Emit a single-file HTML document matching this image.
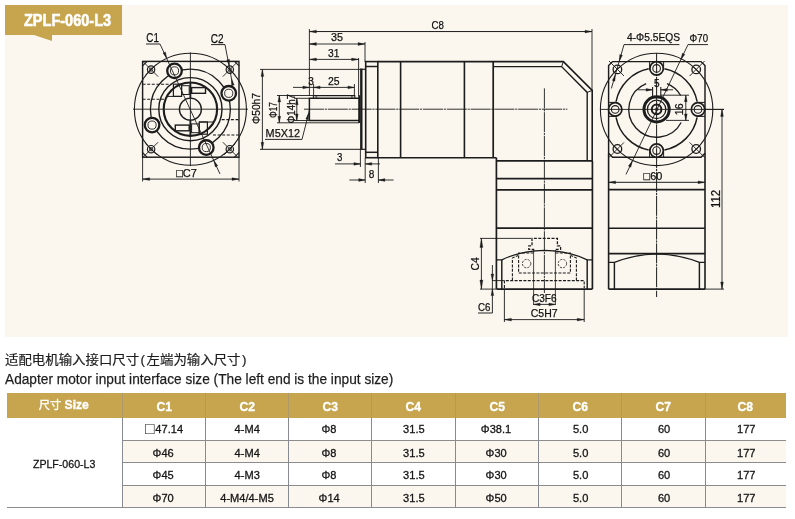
<!DOCTYPE html>
<html lang="zh"><head><meta charset="utf-8"><title>ZPLF-060-L3</title>
<style>
html,body{margin:0;padding:0;background:#fff}
body{width:795px;height:519px;position:relative;overflow:hidden;font-family:"Liberation Sans","Noto Sans CJK SC",sans-serif;color:#1c1c1c}
#page{position:absolute;left:0;top:0;width:795px;height:519px;background:#fff;will-change:transform}
.panel{position:absolute;left:5px;top:5px;width:783px;height:332.3px;background:#fbf7ef}
.banner{position:absolute;left:5px;top:5px;width:117px;height:29.7px;background:#c7a54e}
.banner span{position:absolute;left:18.7px;top:0.5px;line-height:29.7px;font-size:16px;font-weight:bold;color:#fff;white-space:nowrap;transform:scaleX(0.907);transform-origin:0 50%;-webkit-text-stroke:0.55px #fff}
.tail{position:absolute;left:33.6px;top:34.7px;width:0;height:0;border-left:18.4px solid transparent;border-bottom:6.6px solid #c7a54e;transform:scaleY(-1)}
svg{position:absolute;left:0;top:0}
svg text{font-family:"Liberation Sans","Noto Sans CJK SC",sans-serif;fill:#111;stroke:#111;stroke-width:0.25px}
.cap{position:absolute;left:5px;white-space:nowrap;color:#1e1e1e;transform-origin:0 50%}
.c1{top:350.8px;font-size:12.6px;line-height:18px;transform:scaleX(1.065);-webkit-text-stroke:0.2px #1e1e1e}
.c2{top:368.6px;font-size:15.4px;line-height:20px;transform:scaleX(0.890);-webkit-text-stroke:0.25px #1e1e1e}
.pr{margin:0 1.4px}
.hdr{position:absolute;background:#c7a54e}
.th{position:absolute;color:#fff;font-weight:bold;font-size:12.8px;text-align:center;white-space:nowrap}
.td{position:absolute;text-align:center;font-size:11.6px;white-space:nowrap;color:#151515}
.th span,.td span{display:inline-block}
.th span{transform:translateY(1.3px) scaleX(0.95);-webkit-text-stroke:0.35px #fff}
.td span{-webkit-text-stroke:0.3px #151515}
.th span.h0{transform:translate(-0.6px,-0.6px) scaleX(0.95)}
.cj{font-weight:normal;font-size:11.8px;-webkit-text-stroke:0.4px #fff}
.td span.m{transform:translate(0,0.6px) scaleX(0.915)}
.sq{font-style:normal;font-size:16.5px;line-height:1px;position:relative;top:1px;margin-right:1px;-webkit-text-stroke:0}
.rowbg{position:absolute}
.hl{position:absolute;height:1px;background:#8c8b8d}
.vl{position:absolute;width:1px;background:#888a92}
</style></head>
<body>
<div id="page">
<div class="panel"></div>
<div class="banner"><span>ZPLF-060-L3</span></div>
<div class="tail"></div>
<svg width="795" height="519" viewBox="0 0 795 519" stroke-linecap="butt">
<rect x="142.6" y="61.4" width="96.4" height="95.8" fill="none" stroke="#1c1c1c" stroke-width="1.45"/>
<line x1="142.6" y1="65.9" x2="147.1" y2="61.4" stroke="#1c1c1c" stroke-width="1.1"/>
<line x1="239" y1="65.9" x2="234.5" y2="61.4" stroke="#1c1c1c" stroke-width="1.1"/>
<line x1="142.6" y1="152.7" x2="147.1" y2="157.2" stroke="#1c1c1c" stroke-width="1.1"/>
<line x1="239" y1="152.7" x2="234.5" y2="157.2" stroke="#1c1c1c" stroke-width="1.1"/>
<circle cx="190.4" cy="109.2" r="56" fill="none" stroke="#1c1c1c" stroke-width="1.1"/>
<circle cx="190.4" cy="109.2" r="40" fill="none" stroke="#1c1c1c" stroke-width="1.3"/>
<circle cx="190.4" cy="109.2" r="31.6" fill="none" stroke="#1c1c1c" stroke-width="1.4"/>
<circle cx="190.4" cy="109.2" r="26.7" fill="none" stroke="#1c1c1c" stroke-width="2.1"/>
<circle cx="190.4" cy="109.2" r="11" fill="none" stroke="#1c1c1c" stroke-width="1.3"/>
<line x1="190.4" y1="52.5" x2="190.4" y2="166" stroke="#1c1c1c" stroke-width="0.9"/>
<line x1="133" y1="109.2" x2="248" y2="109.2" stroke="#1c1c1c" stroke-width="0.9"/>
<circle cx="174.52" cy="70.86" r="7.3" fill="#fbf7ef" stroke="#1c1c1c" stroke-width="2.3"/>
<circle cx="174.52" cy="70.86" r="4.1" fill="none" stroke="#1c1c1c" stroke-width="0.9"/>
<circle cx="228.74" cy="93.32" r="7.3" fill="#fbf7ef" stroke="#1c1c1c" stroke-width="2.3"/>
<circle cx="228.74" cy="93.32" r="4.1" fill="none" stroke="#1c1c1c" stroke-width="0.9"/>
<circle cx="206.28" cy="147.54" r="7.3" fill="#fbf7ef" stroke="#1c1c1c" stroke-width="2.3"/>
<circle cx="206.28" cy="147.54" r="4.1" fill="none" stroke="#1c1c1c" stroke-width="0.9"/>
<circle cx="152.06" cy="125.08" r="7.3" fill="#fbf7ef" stroke="#1c1c1c" stroke-width="2.3"/>
<circle cx="152.06" cy="125.08" r="4.1" fill="none" stroke="#1c1c1c" stroke-width="0.9"/>
<circle cx="151.1" cy="69.6" r="3.7" fill="none" stroke="#1c1c1c" stroke-width="1.2"/>
<circle cx="151.1" cy="69.6" r="1.7" fill="none" stroke="#1c1c1c" stroke-width="0.8"/>
<line x1="143.6" y1="62.1" x2="158.1" y2="76.6" stroke="#1c1c1c" stroke-width="0.9"/>
<line x1="156.6" y1="64.1" x2="145.6" y2="75.1" stroke="#1c1c1c" stroke-width="0.9"/>
<circle cx="229.8" cy="69.6" r="3.7" fill="none" stroke="#1c1c1c" stroke-width="1.2"/>
<circle cx="229.8" cy="69.6" r="1.7" fill="none" stroke="#1c1c1c" stroke-width="0.8"/>
<line x1="237.3" y1="62.1" x2="222.8" y2="76.6" stroke="#1c1c1c" stroke-width="0.9"/>
<line x1="224.3" y1="64.1" x2="235.3" y2="75.1" stroke="#1c1c1c" stroke-width="0.9"/>
<circle cx="151.1" cy="149.2" r="3.7" fill="none" stroke="#1c1c1c" stroke-width="1.2"/>
<circle cx="151.1" cy="149.2" r="1.7" fill="none" stroke="#1c1c1c" stroke-width="0.8"/>
<line x1="143.6" y1="156.7" x2="158.1" y2="142.2" stroke="#1c1c1c" stroke-width="0.9"/>
<line x1="156.6" y1="154.7" x2="145.6" y2="143.7" stroke="#1c1c1c" stroke-width="0.9"/>
<circle cx="229.8" cy="149.2" r="3.7" fill="none" stroke="#1c1c1c" stroke-width="1.2"/>
<circle cx="229.8" cy="149.2" r="1.7" fill="none" stroke="#1c1c1c" stroke-width="0.8"/>
<line x1="237.3" y1="156.7" x2="222.8" y2="142.2" stroke="#1c1c1c" stroke-width="0.9"/>
<line x1="224.3" y1="154.7" x2="235.3" y2="143.7" stroke="#1c1c1c" stroke-width="0.9"/>
<line x1="142.6" y1="84.2" x2="171.5" y2="84.2" stroke="#1c1c1c" stroke-width="1.1" stroke-dasharray="3 1.6"/>
<line x1="142.6" y1="99.3" x2="165" y2="99.3" stroke="#1c1c1c" stroke-width="1.1" stroke-dasharray="3 1.6"/>
<line x1="221.7" y1="119.6" x2="239" y2="119.6" stroke="#1c1c1c" stroke-width="1.1" stroke-dasharray="3 1.6"/>
<line x1="213" y1="135" x2="239" y2="135" stroke="#1c1c1c" stroke-width="1.1" stroke-dasharray="3 1.6"/>
<rect x="173.4" y="84.2" width="8.2" height="12.2" fill="none" stroke="#1c1c1c" stroke-width="1.2"/>
<rect x="181.6" y="85.7" width="7.6" height="8.8" fill="none" stroke="#1c1c1c" stroke-width="1"/>
<rect x="191.6" y="87.6" width="13.9" height="5.7" fill="none" stroke="#1c1c1c" stroke-width="1.4"/>
<line x1="190.4" y1="82.5" x2="190.4" y2="98" stroke="#1c1c1c" stroke-width="1.8"/>
<line x1="167.5" y1="96.4" x2="181.6" y2="96.4" stroke="#1c1c1c" stroke-width="1"/>
<rect x="199.2" y="122" width="8.2" height="12.2" fill="none" stroke="#1c1c1c" stroke-width="1.2"/>
<rect x="191.6" y="123.9" width="7.6" height="8.8" fill="none" stroke="#1c1c1c" stroke-width="1"/>
<rect x="175.3" y="125.1" width="13.9" height="5.7" fill="none" stroke="#1c1c1c" stroke-width="1.4"/>
<line x1="190.4" y1="135.9" x2="190.4" y2="120.4" stroke="#1c1c1c" stroke-width="1.8"/>
<line x1="213.3" y1="122" x2="199.2" y2="122" stroke="#1c1c1c" stroke-width="1"/>
<line x1="160" y1="44" x2="220" y2="174" stroke="#1c1c1c" stroke-width="0.9"/>
<polygon points="166.9,58.4 162.91,53.08 165.46,51.91" fill="#1c1c1c" stroke="#1c1c1c" stroke-width="0.3"/>
<polygon points="213.8,160.4 217.79,165.72 215.24,166.89" fill="#1c1c1c" stroke="#1c1c1c" stroke-width="0.3"/>
<line x1="146" y1="44" x2="160" y2="44" stroke="#1c1c1c" stroke-width="0.95"/>
<text x="146.3" y="41.9" font-size="12.3" textLength="12.6" lengthAdjust="spacingAndGlyphs">C1</text>
<line x1="211" y1="44.6" x2="225" y2="44.6" stroke="#1c1c1c" stroke-width="0.95"/>
<line x1="225" y1="44.6" x2="232.5" y2="84" stroke="#1c1c1c" stroke-width="0.9"/>
<polygon points="229.4,66 226.79,59.89 229.53,59.35" fill="#1c1c1c" stroke="#1c1c1c" stroke-width="0.3"/>
<polygon points="231.6,79 234.21,85.11 231.47,85.65" fill="#1c1c1c" stroke="#1c1c1c" stroke-width="0.3"/>
<text x="210.7" y="42.5" font-size="12.3" textLength="12.8" lengthAdjust="spacingAndGlyphs">C2</text>
<line x1="142.6" y1="157.2" x2="142.6" y2="181.5" stroke="#1c1c1c" stroke-width="0.9"/>
<line x1="239" y1="157.2" x2="239" y2="181.5" stroke="#1c1c1c" stroke-width="0.9"/>
<line x1="142.6" y1="179.1" x2="239" y2="179.1" stroke="#1c1c1c" stroke-width="0.9"/>
<polygon points="142.6,179.1 149.6,177.7 149.6,180.5" fill="#1c1c1c" stroke="#1c1c1c" stroke-width="0.3"/>
<polygon points="239,179.1 232,180.5 232,177.7" fill="#1c1c1c" stroke="#1c1c1c" stroke-width="0.3"/>
<text x="176.2" y="176.8" font-size="11.4" textLength="20.8" lengthAdjust="spacingAndGlyphs">□C7</text>
<line x1="260" y1="69.4" x2="360" y2="69.4" stroke="#1c1c1c" stroke-width="0.9"/>
<line x1="260" y1="149.3" x2="360" y2="149.3" stroke="#1c1c1c" stroke-width="1"/>
<line x1="262.4" y1="69.4" x2="262.4" y2="149.3" stroke="#1c1c1c" stroke-width="0.9"/>
<polygon points="262.4,69.4 263.8,76.4 261,76.4" fill="#1c1c1c" stroke="#1c1c1c" stroke-width="0.3"/>
<polygon points="262.4,149.3 261,142.3 263.8,142.3" fill="#1c1c1c" stroke="#1c1c1c" stroke-width="0.3"/>
<text x="259.6" y="124" font-size="11.4" transform="rotate(-90 259.6 124)" textLength="31" lengthAdjust="spacingAndGlyphs">Φ50h7</text>
<line x1="277" y1="95.5" x2="313" y2="95.5" stroke="#1c1c1c" stroke-width="0.9"/>
<line x1="277" y1="122.8" x2="359" y2="122.8" stroke="#1c1c1c" stroke-width="0.9"/>
<line x1="279.3" y1="95.5" x2="279.3" y2="122.8" stroke="#1c1c1c" stroke-width="0.9"/>
<polygon points="279.3,95.5 280.7,102 277.9,102" fill="#1c1c1c" stroke="#1c1c1c" stroke-width="0.3"/>
<polygon points="279.3,122.8 277.9,116.3 280.7,116.3" fill="#1c1c1c" stroke="#1c1c1c" stroke-width="0.3"/>
<text x="277" y="118" font-size="11.4" transform="rotate(-90 277 118)" textLength="16" lengthAdjust="spacingAndGlyphs">Φ17</text>
<line x1="294" y1="98.3" x2="309" y2="98.3" stroke="#1c1c1c" stroke-width="0.9"/>
<line x1="294" y1="120.5" x2="309" y2="120.5" stroke="#1c1c1c" stroke-width="0.9"/>
<line x1="296.8" y1="98.3" x2="296.8" y2="120.5" stroke="#1c1c1c" stroke-width="0.9"/>
<polygon points="296.8,98.3 298.2,104.8 295.4,104.8" fill="#1c1c1c" stroke="#1c1c1c" stroke-width="0.3"/>
<polygon points="296.8,120.5 295.4,114 298.2,114" fill="#1c1c1c" stroke="#1c1c1c" stroke-width="0.3"/>
<text x="295" y="123.5" font-size="11.4" transform="rotate(-90 295 123.5)" textLength="29.5" lengthAdjust="spacingAndGlyphs">Φ14h7</text>
<text x="265.6" y="137.3" font-size="11.4" textLength="34.4" lengthAdjust="spacingAndGlyphs">M5X12</text>
<line x1="265" y1="139.4" x2="302" y2="139.4" stroke="#1c1c1c" stroke-width="0.95"/>
<line x1="302" y1="139.4" x2="309.5" y2="110" stroke="#1c1c1c" stroke-width="0.9"/>
<polygon points="308.7,113 308.45,119.64 305.74,118.95" fill="#1c1c1c" stroke="#1c1c1c" stroke-width="0.3"/>
<line x1="309.4" y1="29" x2="309.4" y2="96" stroke="#1c1c1c" stroke-width="0.9"/>
<line x1="592" y1="29" x2="592" y2="91" stroke="#1c1c1c" stroke-width="0.9"/>
<line x1="309.4" y1="31.55" x2="592" y2="31.55" stroke="#1c1c1c" stroke-width="1"/>
<polygon points="309.4,31.55 316.4,30.15 316.4,32.95" fill="#1c1c1c" stroke="#1c1c1c" stroke-width="0.3"/>
<polygon points="592,31.55 585,32.95 585,30.15" fill="#1c1c1c" stroke="#1c1c1c" stroke-width="0.3"/>
<text x="431.6" y="28.7" font-size="11.4" textLength="12.4" lengthAdjust="spacingAndGlyphs">C8</text>
<line x1="309.4" y1="44" x2="365" y2="44" stroke="#1c1c1c" stroke-width="0.9"/>
<polygon points="309.4,44 316.4,42.6 316.4,45.4" fill="#1c1c1c" stroke="#1c1c1c" stroke-width="0.3"/>
<polygon points="365,44 358,45.4 358,42.6" fill="#1c1c1c" stroke="#1c1c1c" stroke-width="0.3"/>
<line x1="365" y1="42" x2="365" y2="62" stroke="#1c1c1c" stroke-width="0.9"/>
<text x="331" y="41.3" font-size="11.4" textLength="12" lengthAdjust="spacingAndGlyphs">35</text>
<line x1="309.4" y1="59.4" x2="358.6" y2="59.4" stroke="#1c1c1c" stroke-width="0.9"/>
<polygon points="309.4,59.4 316.4,58 316.4,60.8" fill="#1c1c1c" stroke="#1c1c1c" stroke-width="0.3"/>
<polygon points="358.6,59.4 351.6,60.8 351.6,58" fill="#1c1c1c" stroke="#1c1c1c" stroke-width="0.3"/>
<line x1="358.6" y1="58" x2="358.6" y2="96" stroke="#1c1c1c" stroke-width="0.9"/>
<text x="328" y="57.3" font-size="11.4" textLength="11.4" lengthAdjust="spacingAndGlyphs">31</text>
<line x1="293" y1="87.4" x2="354.4" y2="87.4" stroke="#1c1c1c" stroke-width="0.9"/>
<polygon points="309.4,87.4 302.9,88.8 302.9,86" fill="#1c1c1c" stroke="#1c1c1c" stroke-width="0.3"/>
<polygon points="313.6,87.4 320.1,86 320.1,88.8" fill="#1c1c1c" stroke="#1c1c1c" stroke-width="0.3"/>
<polygon points="354.4,87.4 347.9,88.8 347.9,86" fill="#1c1c1c" stroke="#1c1c1c" stroke-width="0.3"/>
<line x1="313.6" y1="84" x2="313.6" y2="96" stroke="#1c1c1c" stroke-width="0.9"/>
<line x1="354.4" y1="84" x2="354.4" y2="96" stroke="#1c1c1c" stroke-width="0.9"/>
<text x="308.2" y="84.7" font-size="11.4" textLength="5.6" lengthAdjust="spacingAndGlyphs">3</text>
<text x="328" y="84.7" font-size="11.4" textLength="11.6" lengthAdjust="spacingAndGlyphs">25</text>
<line x1="335" y1="163.9" x2="360.4" y2="163.9" stroke="#1c1c1c" stroke-width="0.9"/>
<polygon points="360.4,163.9 353.9,165.3 353.9,162.5" fill="#1c1c1c" stroke="#1c1c1c" stroke-width="0.3"/>
<line x1="365.2" y1="163.9" x2="380" y2="163.9" stroke="#1c1c1c" stroke-width="0.9"/>
<polygon points="365.2,163.9 371.7,162.5 371.7,165.3" fill="#1c1c1c" stroke="#1c1c1c" stroke-width="0.3"/>
<line x1="360.4" y1="149" x2="360.4" y2="167" stroke="#1c1c1c" stroke-width="0.9"/>
<text x="337" y="161.3" font-size="11.4" textLength="5.4" lengthAdjust="spacingAndGlyphs">3</text>
<line x1="365.2" y1="158" x2="365.2" y2="183" stroke="#1c1c1c" stroke-width="0.9"/>
<line x1="378.4" y1="158" x2="378.4" y2="183" stroke="#1c1c1c" stroke-width="0.9"/>
<line x1="349.4" y1="180" x2="365.2" y2="180" stroke="#1c1c1c" stroke-width="0.9"/>
<polygon points="365.2,180 358.7,181.4 358.7,178.6" fill="#1c1c1c" stroke="#1c1c1c" stroke-width="0.3"/>
<line x1="378.4" y1="180" x2="393.6" y2="180" stroke="#1c1c1c" stroke-width="0.9"/>
<polygon points="378.4,180 384.9,178.6 384.9,181.4" fill="#1c1c1c" stroke="#1c1c1c" stroke-width="0.3"/>
<text x="368.8" y="177.9" font-size="11.4" textLength="5.6" lengthAdjust="spacingAndGlyphs">8</text>
<polyline points="359,98.3 309.4,98.3 309.4,120.5 359,120.5" fill="none" stroke="#1c1c1c" stroke-width="1.45"/>
<polyline points="313.4,98.3 313.4,95.6 354.8,95.6 354.8,98.3" fill="none" stroke="#1c1c1c" stroke-width="1.1"/>
<path d="M317.6 95.6 A2.4 1.4 0 0 0 317.6 98.3" fill="none" stroke="#1c1c1c" stroke-width="0.8"/>
<path d="M350.6 95.6 A2.4 1.4 0 0 1 350.6 98.3" fill="none" stroke="#1c1c1c" stroke-width="0.8"/>
<line x1="361.3" y1="68.6" x2="361.3" y2="149.6" stroke="#1c1c1c" stroke-width="2.4"/>
<line x1="360" y1="69.3" x2="365.6" y2="69.3" stroke="#1c1c1c" stroke-width="1.2"/>
<line x1="360" y1="149.3" x2="365.6" y2="149.3" stroke="#1c1c1c" stroke-width="1.2"/>
<line x1="359.2" y1="95.2" x2="359.2" y2="123" stroke="#1c1c1c" stroke-width="2"/>
<rect x="365.7" y="61.6" width="12.1" height="96.1" fill="none" stroke="#1c1c1c" stroke-width="1.6"/>
<line x1="365.7" y1="66.5" x2="377.8" y2="66.5" stroke="#1c1c1c" stroke-width="1.5"/>
<line x1="365.7" y1="152.3" x2="377.8" y2="152.3" stroke="#1c1c1c" stroke-width="1.5"/>
<polyline points="377.8,61.6 563.4,61.6 592.2,90.4 592.2,160.9" fill="none" stroke="#1c1c1c" stroke-width="1.6"/>
<line x1="377.8" y1="157.7" x2="496.4" y2="157.7" stroke="#1c1c1c" stroke-width="1.6"/>
<line x1="400.6" y1="61.6" x2="400.6" y2="157.7" stroke="#1c1c1c" stroke-width="1.6"/>
<line x1="464.4" y1="61.6" x2="464.4" y2="157.7" stroke="#1c1c1c" stroke-width="1.6"/>
<line x1="493.2" y1="61.6" x2="493.2" y2="157.7" stroke="#1c1c1c" stroke-width="1.7"/>
<polyline points="493.2,66.6 561.6,66.6 587.2,92.4 587.2,160.9" fill="none" stroke="#1c1c1c" stroke-width="1.4"/>
<line x1="563.4" y1="61.6" x2="561.6" y2="66.6" stroke="#1c1c1c" stroke-width="1"/>
<line x1="592.2" y1="90.4" x2="587.2" y2="92.4" stroke="#1c1c1c" stroke-width="1"/>
<line x1="496.4" y1="157.7" x2="496.4" y2="289.1" stroke="#1c1c1c" stroke-width="1.7"/>
<line x1="592.4" y1="160.9" x2="592.4" y2="289.1" stroke="#1c1c1c" stroke-width="1.7"/>
<line x1="496.4" y1="160.9" x2="592.4" y2="160.9" stroke="#1c1c1c" stroke-width="1.7"/>
<line x1="496.4" y1="178.6" x2="592.4" y2="178.6" stroke="#1c1c1c" stroke-width="1.7"/>
<line x1="496.4" y1="189.8" x2="592.4" y2="189.8" stroke="#1c1c1c" stroke-width="1.7"/>
<line x1="496.4" y1="228.2" x2="592.4" y2="228.2" stroke="#1c1c1c" stroke-width="1.7"/>
<line x1="496.4" y1="289.1" x2="592.4" y2="289.1" stroke="#1c1c1c" stroke-width="1.7"/>
<line x1="304" y1="109.2" x2="567.4" y2="109.2" stroke="#1c1c1c" stroke-width="0.9" stroke-dasharray="20 0.8 2.2 0.8"/>
<line x1="544.4" y1="88.4" x2="544.4" y2="293" stroke="#1c1c1c" stroke-width="0.9" stroke-dasharray="20 0.8 2.2 0.8"/>
<line x1="501.8" y1="259.8" x2="501.8" y2="289.1" stroke="#1c1c1c" stroke-width="1.45"/>
<line x1="587.2" y1="259.8" x2="587.2" y2="289.1" stroke="#1c1c1c" stroke-width="1.45"/>
<path d="M496.4 259.8 L501.8 259.8 Q520 251 544.4 250.4 Q569 251 587.2 259.8 L592.4 259.8" fill="none" stroke="#1c1c1c" stroke-width="1.3"/>
<polyline points="504.4,288 504.4,280.6 584.2,280.6 584.2,288" fill="none" stroke="#1c1c1c" stroke-width="1.1" stroke-dasharray="3 1.4"/>
<line x1="492" y1="280.6" x2="504.4" y2="280.6" stroke="#1c1c1c" stroke-width="0.9"/>
<polyline points="512.4,280.6 512.4,258 518,255.5" fill="none" stroke="#1c1c1c" stroke-width="1.1" stroke-dasharray="3 1.4"/>
<polyline points="576.4,280.6 576.4,258 571,255.5" fill="none" stroke="#1c1c1c" stroke-width="1.1" stroke-dasharray="3 1.4"/>
<polyline points="533.6,253 518.6,253 518.6,273 570.4,273 570.4,253 555.4,253" fill="none" stroke="#1c1c1c" stroke-width="1.1" stroke-dasharray="3 1.4"/>
<polyline points="533.6,250.5 533.6,249.4 528.8,249.4 528.8,245.8 532,245.8 532,238.4 557.4,238.4 557.4,245.8 560.6,245.8 560.6,249.4 555.4,249.4 555.4,250.5" fill="none" stroke="#1c1c1c" stroke-width="1.3" stroke-dasharray="3 1.4"/>
<line x1="533.6" y1="250" x2="533.6" y2="305" stroke="#1c1c1c" stroke-width="0.8"/>
<line x1="555.4" y1="250" x2="555.4" y2="305" stroke="#1c1c1c" stroke-width="0.8"/>
<circle cx="526.6" cy="263.6" r="4.2" fill="none" stroke="#1c1c1c" stroke-width="0.8" stroke-dasharray="2.2 1.2"/>
<circle cx="562.4" cy="263.6" r="4.2" fill="none" stroke="#1c1c1c" stroke-width="0.8" stroke-dasharray="2.2 1.2"/>
<line x1="480" y1="238.4" x2="531" y2="238.4" stroke="#1c1c1c" stroke-width="0.9"/>
<line x1="480" y1="289.1" x2="496" y2="289.1" stroke="#1c1c1c" stroke-width="0.9"/>
<line x1="481.4" y1="238.4" x2="481.4" y2="289.1" stroke="#1c1c1c" stroke-width="0.9"/>
<polygon points="481.4,238.4 482.9,247.4 479.9,247.4" fill="#1c1c1c" stroke="#1c1c1c" stroke-width="0.3"/>
<polygon points="481.4,289.1 479.9,280.1 482.9,280.1" fill="#1c1c1c" stroke="#1c1c1c" stroke-width="0.3"/>
<text x="478.8" y="270.4" font-size="11.4" transform="rotate(-90 478.8 270.4)" textLength="13.2" lengthAdjust="spacingAndGlyphs">C4</text>
<line x1="492.4" y1="265" x2="492.4" y2="313" stroke="#1c1c1c" stroke-width="0.9"/>
<polygon points="492.4,280.6 491,274.1 493.8,274.1" fill="#1c1c1c" stroke="#1c1c1c" stroke-width="0.3"/>
<polygon points="492.4,289.1 493.8,295.6 491,295.6" fill="#1c1c1c" stroke="#1c1c1c" stroke-width="0.3"/>
<line x1="478" y1="313" x2="492.4" y2="313" stroke="#1c1c1c" stroke-width="0.95"/>
<text x="478" y="310.7" font-size="11.4" textLength="12.4" lengthAdjust="spacingAndGlyphs">C6</text>
<text x="532" y="301.7" font-size="11.4" textLength="24.6" lengthAdjust="spacingAndGlyphs">C3F6</text>
<line x1="533.6" y1="304.4" x2="555.4" y2="304.4" stroke="#1c1c1c" stroke-width="0.9"/>
<polygon points="533.6,304.4 540.1,303 540.1,305.8" fill="#1c1c1c" stroke="#1c1c1c" stroke-width="0.3"/>
<polygon points="555.4,304.4 548.9,305.8 548.9,303" fill="#1c1c1c" stroke="#1c1c1c" stroke-width="0.3"/>
<line x1="504.4" y1="289.1" x2="504.4" y2="322" stroke="#1c1c1c" stroke-width="0.9"/>
<line x1="584.2" y1="289.1" x2="584.2" y2="322" stroke="#1c1c1c" stroke-width="0.9"/>
<line x1="504.4" y1="319.6" x2="584.2" y2="319.6" stroke="#1c1c1c" stroke-width="0.9"/>
<polygon points="504.4,319.6 511.4,318.2 511.4,321" fill="#1c1c1c" stroke="#1c1c1c" stroke-width="0.3"/>
<polygon points="584.2,319.6 577.2,321 577.2,318.2" fill="#1c1c1c" stroke="#1c1c1c" stroke-width="0.3"/>
<text x="530.8" y="317.1" font-size="11.4" textLength="26.8" lengthAdjust="spacingAndGlyphs">C5H7</text>
<polygon points="612.6,61.6 701,61.6 705,65.6 705,153.2 701,157.2 612.6,157.2 608.6,153.2 608.6,65.6" fill="none" stroke="#1c1c1c" stroke-width="1.45"/>
<circle cx="656.6" cy="109.4" r="56.2" fill="none" stroke="#1c1c1c" stroke-width="1.1"/>
<path d="M697.14 117.28A41.3 41.3 0 0 1 664.48 149.94" fill="none" stroke="#1c1c1c" stroke-width="1.5"/>
<path d="M648.72 149.94A41.3 41.3 0 0 1 616.06 117.28" fill="none" stroke="#1c1c1c" stroke-width="1.5"/>
<path d="M616.06 101.52A41.3 41.3 0 0 1 648.72 68.86" fill="none" stroke="#1c1c1c" stroke-width="1.5"/>
<path d="M664.48 68.86A41.3 41.3 0 0 1 697.14 101.52" fill="none" stroke="#1c1c1c" stroke-width="1.5"/>
<path d="M667.01 83.62A27.8 27.8 0 0 1 680.68 95.5" fill="none" stroke="#1c1c1c" stroke-width="1.3"/>
<path d="M681.15 122.45A27.8 27.8 0 1 1 646.19 83.62" fill="none" stroke="#1c1c1c" stroke-width="1.3"/>
<circle cx="656.6" cy="109.4" r="12.6" fill="none" stroke="#1c1c1c" stroke-width="3"/>
<circle cx="656.6" cy="109.4" r="9.2" fill="none" stroke="#1c1c1c" stroke-width="1.3"/>
<circle cx="656.6" cy="109.4" r="4.8" fill="none" stroke="#1c1c1c" stroke-width="2"/>
<circle cx="656.6" cy="109.4" r="1.5" fill="none" stroke="#1c1c1c" stroke-width="0.8"/>
<circle cx="656.6" cy="68.4" r="6.7" fill="#fbf7ef" stroke="#1c1c1c" stroke-width="1.7"/>
<circle cx="656.6" cy="68.4" r="3.8" fill="none" stroke="#1c1c1c" stroke-width="1.1"/>
<circle cx="656.6" cy="150.6" r="6.7" fill="#fbf7ef" stroke="#1c1c1c" stroke-width="1.7"/>
<circle cx="656.6" cy="150.6" r="3.8" fill="none" stroke="#1c1c1c" stroke-width="1.1"/>
<circle cx="615.2" cy="109.4" r="6.7" fill="#fbf7ef" stroke="#1c1c1c" stroke-width="1.7"/>
<circle cx="615.2" cy="109.4" r="3.8" fill="none" stroke="#1c1c1c" stroke-width="1.1"/>
<circle cx="698" cy="109.4" r="6.7" fill="#fbf7ef" stroke="#1c1c1c" stroke-width="1.7"/>
<circle cx="698" cy="109.4" r="3.8" fill="none" stroke="#1c1c1c" stroke-width="1.1"/>
<polyline points="649.6,61.6 649.6,70" fill="none" stroke="#1c1c1c" stroke-width="1"/>
<polyline points="663.6,61.6 663.6,70" fill="none" stroke="#1c1c1c" stroke-width="1"/>
<polyline points="649.6,157.2 649.6,149" fill="none" stroke="#1c1c1c" stroke-width="1"/>
<polyline points="663.6,157.2 663.6,149" fill="none" stroke="#1c1c1c" stroke-width="1"/>
<polyline points="608.6,102.4 617,102.4" fill="none" stroke="#1c1c1c" stroke-width="1"/>
<polyline points="608.6,116.4 617,116.4" fill="none" stroke="#1c1c1c" stroke-width="1"/>
<polyline points="705,102.4 696.6,102.4" fill="none" stroke="#1c1c1c" stroke-width="1"/>
<polyline points="705,116.4 696.6,116.4" fill="none" stroke="#1c1c1c" stroke-width="1"/>
<circle cx="617.4" cy="69.4" r="4.3" fill="none" stroke="#1c1c1c" stroke-width="1.3"/>
<line x1="609" y1="61" x2="624" y2="76" stroke="#1c1c1c" stroke-width="0.9"/>
<line x1="614.4" y1="72.4" x2="620.4" y2="66.4" stroke="#1c1c1c" stroke-width="0.9"/>
<circle cx="696.2" cy="69.4" r="4.3" fill="none" stroke="#1c1c1c" stroke-width="1.3"/>
<line x1="689.6" y1="76" x2="704.6" y2="61" stroke="#1c1c1c" stroke-width="0.9"/>
<line x1="693.2" y1="66.4" x2="699.2" y2="72.4" stroke="#1c1c1c" stroke-width="0.9"/>
<circle cx="617.4" cy="149" r="4.3" fill="none" stroke="#1c1c1c" stroke-width="1.3"/>
<line x1="609" y1="157.4" x2="624" y2="142.4" stroke="#1c1c1c" stroke-width="0.9"/>
<line x1="614.4" y1="146" x2="620.4" y2="152" stroke="#1c1c1c" stroke-width="0.9"/>
<circle cx="696.2" cy="149" r="4.3" fill="none" stroke="#1c1c1c" stroke-width="1.3"/>
<line x1="689.6" y1="142.4" x2="704.6" y2="157.4" stroke="#1c1c1c" stroke-width="0.9"/>
<line x1="693.2" y1="152" x2="699.2" y2="146" stroke="#1c1c1c" stroke-width="0.9"/>
<line x1="656.6" y1="53" x2="656.6" y2="297" stroke="#1c1c1c" stroke-width="1" stroke-dasharray="20 0.8 2.2 0.8"/>
<line x1="600" y1="109.4" x2="724" y2="109.4" stroke="#1c1c1c" stroke-width="0.9"/>
<line x1="608.6" y1="153.2" x2="608.6" y2="289.1" stroke="#1c1c1c" stroke-width="1.6"/>
<line x1="705" y1="153.2" x2="705" y2="289.1" stroke="#1c1c1c" stroke-width="1.6"/>
<line x1="608.6" y1="189.6" x2="705" y2="189.6" stroke="#1c1c1c" stroke-width="1.6"/>
<line x1="608.6" y1="228.2" x2="705" y2="228.2" stroke="#1c1c1c" stroke-width="1.6"/>
<line x1="608.6" y1="253.6" x2="705" y2="253.6" stroke="#1c1c1c" stroke-width="1.6"/>
<line x1="608.6" y1="289.1" x2="705" y2="289.1" stroke="#1c1c1c" stroke-width="1.6"/>
<line x1="614.4" y1="262.4" x2="614.4" y2="289.1" stroke="#1c1c1c" stroke-width="1.45"/>
<line x1="699.4" y1="262.4" x2="699.4" y2="289.1" stroke="#1c1c1c" stroke-width="1.45"/>
<path d="M608.6 262.4 L614.4 262.4 Q634 254.5 656.6 253.8 Q680 254.5 699.4 262.4 L705 262.4" fill="none" stroke="#1c1c1c" stroke-width="1.2"/>
<text x="627" y="41.1" font-size="11.4" textLength="53" lengthAdjust="spacingAndGlyphs">4-Φ5.5EQS</text>
<line x1="624" y1="44.6" x2="679.4" y2="44.6" stroke="#1c1c1c" stroke-width="0.95"/>
<line x1="624" y1="44.6" x2="611.4" y2="88.4" stroke="#1c1c1c" stroke-width="0.9"/>
<polygon points="619.3,61.2 619.75,54.57 622.44,55.34" fill="#1c1c1c" stroke="#1c1c1c" stroke-width="0.3"/>
<polygon points="615.4,74.6 614.95,81.23 612.26,80.46" fill="#1c1c1c" stroke="#1c1c1c" stroke-width="0.3"/>
<text x="689.6" y="41.5" font-size="11.4" textLength="18.4" lengthAdjust="spacingAndGlyphs">Φ70</text>
<line x1="688" y1="44.6" x2="708" y2="44.6" stroke="#1c1c1c" stroke-width="0.95"/>
<line x1="688" y1="44.6" x2="626" y2="174.4" stroke="#1c1c1c" stroke-width="0.9"/>
<polygon points="680.8,59.7 682.33,53.23 684.86,54.44" fill="#1c1c1c" stroke="#1c1c1c" stroke-width="0.3"/>
<polygon points="632.4,160.8 630.87,167.27 628.34,166.06" fill="#1c1c1c" stroke="#1c1c1c" stroke-width="0.3"/>
<line x1="638" y1="89.8" x2="652.6" y2="89.8" stroke="#1c1c1c" stroke-width="0.9"/>
<polygon points="652.6,89.8 646.1,91.2 646.1,88.4" fill="#1c1c1c" stroke="#1c1c1c" stroke-width="0.3"/>
<line x1="660.8" y1="89.8" x2="673" y2="89.8" stroke="#1c1c1c" stroke-width="0.9"/>
<polygon points="660.8,89.8 667.3,88.4 667.3,91.2" fill="#1c1c1c" stroke="#1c1c1c" stroke-width="0.3"/>
<line x1="652.6" y1="87" x2="652.6" y2="98" stroke="#1c1c1c" stroke-width="1.1"/>
<line x1="660.8" y1="87" x2="660.8" y2="98" stroke="#1c1c1c" stroke-width="1.1"/>
<line x1="652.6" y1="97.6" x2="660.8" y2="97.6" stroke="#1c1c1c" stroke-width="1.1"/>
<text x="654" y="86.9" font-size="11.4" textLength="5.6" lengthAdjust="spacingAndGlyphs">5</text>
<line x1="660.4" y1="95.2" x2="689" y2="95.2" stroke="#1c1c1c" stroke-width="0.9"/>
<line x1="666" y1="120.4" x2="689" y2="120.4" stroke="#1c1c1c" stroke-width="0.9"/>
<line x1="685.8" y1="95.2" x2="685.8" y2="120.4" stroke="#1c1c1c" stroke-width="0.9"/>
<polygon points="685.8,95.2 687.2,101.7 684.4,101.7" fill="#1c1c1c" stroke="#1c1c1c" stroke-width="0.3"/>
<polygon points="685.8,120.4 684.4,113.9 687.2,113.9" fill="#1c1c1c" stroke="#1c1c1c" stroke-width="0.3"/>
<text x="683.4" y="115.2" font-size="11.4" transform="rotate(-90 683.4 115.2)" textLength="11.8" lengthAdjust="spacingAndGlyphs">16</text>
<line x1="608.6" y1="182.3" x2="705" y2="182.3" stroke="#1c1c1c" stroke-width="1"/>
<polygon points="608.6,182.3 615.6,180.9 615.6,183.7" fill="#1c1c1c" stroke="#1c1c1c" stroke-width="0.3"/>
<polygon points="705,182.3 698,183.7 698,180.9" fill="#1c1c1c" stroke="#1c1c1c" stroke-width="0.3"/>
<text x="643.6" y="179.9" font-size="11.4" textLength="18.6" lengthAdjust="spacingAndGlyphs">□60</text>
<line x1="705" y1="109.4" x2="724" y2="109.4" stroke="#1c1c1c" stroke-width="0.9"/>
<line x1="705" y1="289.1" x2="724" y2="289.1" stroke="#1c1c1c" stroke-width="0.9"/>
<line x1="722" y1="109.4" x2="722" y2="289.1" stroke="#1c1c1c" stroke-width="0.9"/>
<polygon points="722,109.4 723.4,116.4 720.6,116.4" fill="#1c1c1c" stroke="#1c1c1c" stroke-width="0.3"/>
<polygon points="722,289.1 720.6,282.1 723.4,282.1" fill="#1c1c1c" stroke="#1c1c1c" stroke-width="0.3"/>
<text x="720" y="208" font-size="12" transform="rotate(-90 720 208)" textLength="18.2" lengthAdjust="spacingAndGlyphs">112</text>
</svg>
<div class="cap c1">适配电机输入接口尺寸<span class="pr">(</span>左端为输入尺寸<span class="pr">)</span></div>
<div class="cap c2">Adapter motor input interface size (The left end is the input size)</div>
<div class="hdr" style="left:7px;width:779px;top:393px;height:25.3px"></div>
<div class="rowbg" style="left:122.1px;width:663.9px;top:418.3px;height:22px;background:#fff"></div>
<div class="rowbg" style="left:122.1px;width:663.9px;top:440.3px;height:22.4px;background:#fbf6ee"></div>
<div class="rowbg" style="left:122.1px;width:663.9px;top:462.7px;height:22.6px;background:#fff"></div>
<div class="rowbg" style="left:122.1px;width:663.9px;top:485.3px;height:22.4px;background:#fbf6ee"></div>
<div class="th" style="left:7px;width:115.1px;top:393px;height:25.3px;line-height:25.3px"><span class="h0"><b class="cj">尺寸</b> Size</span></div>
<div class="th" style="left:122.1px;width:83.3px;top:393px;height:25.3px;line-height:25.3px"><span>C1</span></div>
<div class="th" style="left:205.4px;width:83.1px;top:393px;height:25.3px;line-height:25.3px"><span>C2</span></div>
<div class="th" style="left:288.5px;width:83.3px;top:393px;height:25.3px;line-height:25.3px"><span>C3</span></div>
<div class="th" style="left:371.8px;width:83.3px;top:393px;height:25.3px;line-height:25.3px"><span>C4</span></div>
<div class="th" style="left:455.1px;width:83.3px;top:393px;height:25.3px;line-height:25.3px"><span>C5</span></div>
<div class="th" style="left:538.4px;width:83.4px;top:393px;height:25.3px;line-height:25.3px"><span>C6</span></div>
<div class="th" style="left:621.8px;width:83.5px;top:393px;height:25.3px;line-height:25.3px"><span>C7</span></div>
<div class="th" style="left:705.3px;width:80.7px;top:393px;height:25.3px;line-height:25.3px"><span>C8</span></div>
<div class="td" style="left:122.1px;width:83.3px;top:418.3px;height:22px;line-height:22px"><span style="transform:translate(0px,-0.1px) scaleX(0.955)"><i class="sq">□</i>47.14</span></div>
<div class="td" style="left:205.4px;width:83.1px;top:418.3px;height:22px;line-height:22px"><span style="transform:translate(0px,-0.1px) scaleX(0.955)">4-M4</span></div>
<div class="td" style="left:288.5px;width:83.3px;top:418.3px;height:22px;line-height:22px"><span style="transform:translate(-0.9px,-0.1px) scaleX(0.955)">Φ8</span></div>
<div class="td" style="left:371.8px;width:83.3px;top:418.3px;height:22px;line-height:22px"><span style="transform:translate(0.6px,-0.1px) scaleX(0.955)">31.5</span></div>
<div class="td" style="left:455.1px;width:83.3px;top:418.3px;height:22px;line-height:22px"><span style="transform:translate(-0.9px,-0.1px) scaleX(0.955)">Φ38.1</span></div>
<div class="td" style="left:538.4px;width:83.4px;top:418.3px;height:22px;line-height:22px"><span style="transform:translate(0.6px,-0.1px) scaleX(0.955)">5.0</span></div>
<div class="td" style="left:621.8px;width:83.5px;top:418.3px;height:22px;line-height:22px"><span style="transform:translate(0.6px,-0.1px) scaleX(0.955)">60</span></div>
<div class="td" style="left:705.3px;width:80.7px;top:418.3px;height:22px;line-height:22px"><span style="transform:translate(0.6px,-0.1px) scaleX(0.955)">177</span></div>
<div class="td" style="left:122.1px;width:83.3px;top:440.3px;height:22.4px;line-height:22.4px"><span style="transform:translate(-0.9px,2px) scaleX(0.955)">Φ46</span></div>
<div class="td" style="left:205.4px;width:83.1px;top:440.3px;height:22.4px;line-height:22.4px"><span style="transform:translate(0px,2px) scaleX(0.955)">4-M4</span></div>
<div class="td" style="left:288.5px;width:83.3px;top:440.3px;height:22.4px;line-height:22.4px"><span style="transform:translate(-0.9px,2px) scaleX(0.955)">Φ8</span></div>
<div class="td" style="left:371.8px;width:83.3px;top:440.3px;height:22.4px;line-height:22.4px"><span style="transform:translate(0.6px,2px) scaleX(0.955)">31.5</span></div>
<div class="td" style="left:455.1px;width:83.3px;top:440.3px;height:22.4px;line-height:22.4px"><span style="transform:translate(-0.9px,2px) scaleX(0.955)">Φ30</span></div>
<div class="td" style="left:538.4px;width:83.4px;top:440.3px;height:22.4px;line-height:22.4px"><span style="transform:translate(0.6px,2px) scaleX(0.955)">5.0</span></div>
<div class="td" style="left:621.8px;width:83.5px;top:440.3px;height:22.4px;line-height:22.4px"><span style="transform:translate(0.6px,2px) scaleX(0.955)">60</span></div>
<div class="td" style="left:705.3px;width:80.7px;top:440.3px;height:22.4px;line-height:22.4px"><span style="transform:translate(0.6px,2px) scaleX(0.955)">177</span></div>
<div class="td" style="left:122.1px;width:83.3px;top:462.7px;height:22.6px;line-height:22.6px"><span style="transform:translate(-0.9px,1.4px) scaleX(0.955)">Φ45</span></div>
<div class="td" style="left:205.4px;width:83.1px;top:462.7px;height:22.6px;line-height:22.6px"><span style="transform:translate(0px,1.4px) scaleX(0.955)">4-M3</span></div>
<div class="td" style="left:288.5px;width:83.3px;top:462.7px;height:22.6px;line-height:22.6px"><span style="transform:translate(-0.9px,1.4px) scaleX(0.955)">Φ8</span></div>
<div class="td" style="left:371.8px;width:83.3px;top:462.7px;height:22.6px;line-height:22.6px"><span style="transform:translate(0.6px,1.4px) scaleX(0.955)">31.5</span></div>
<div class="td" style="left:455.1px;width:83.3px;top:462.7px;height:22.6px;line-height:22.6px"><span style="transform:translate(-0.9px,1.4px) scaleX(0.955)">Φ30</span></div>
<div class="td" style="left:538.4px;width:83.4px;top:462.7px;height:22.6px;line-height:22.6px"><span style="transform:translate(0.6px,1.4px) scaleX(0.955)">5.0</span></div>
<div class="td" style="left:621.8px;width:83.5px;top:462.7px;height:22.6px;line-height:22.6px"><span style="transform:translate(0.6px,1.4px) scaleX(0.955)">60</span></div>
<div class="td" style="left:705.3px;width:80.7px;top:462.7px;height:22.6px;line-height:22.6px"><span style="transform:translate(0.6px,1.4px) scaleX(0.955)">177</span></div>
<div class="td" style="left:122.1px;width:83.3px;top:485.3px;height:22.4px;line-height:22.4px"><span style="transform:translate(-0.9px,1.5px) scaleX(0.955)">Φ70</span></div>
<div class="td" style="left:205.4px;width:83.1px;top:485.3px;height:22.4px;line-height:22.4px"><span style="transform:translate(0px,1.5px) scaleX(0.955)">4-M4/4-M5</span></div>
<div class="td" style="left:288.5px;width:83.3px;top:485.3px;height:22.4px;line-height:22.4px"><span style="transform:translate(-0.9px,1.5px) scaleX(0.955)">Φ14</span></div>
<div class="td" style="left:371.8px;width:83.3px;top:485.3px;height:22.4px;line-height:22.4px"><span style="transform:translate(0.6px,1.5px) scaleX(0.955)">31.5</span></div>
<div class="td" style="left:455.1px;width:83.3px;top:485.3px;height:22.4px;line-height:22.4px"><span style="transform:translate(-0.9px,1.5px) scaleX(0.955)">Φ50</span></div>
<div class="td" style="left:538.4px;width:83.4px;top:485.3px;height:22.4px;line-height:22.4px"><span style="transform:translate(0.6px,1.5px) scaleX(0.955)">5.0</span></div>
<div class="td" style="left:621.8px;width:83.5px;top:485.3px;height:22.4px;line-height:22.4px"><span style="transform:translate(0.6px,1.5px) scaleX(0.955)">60</span></div>
<div class="td" style="left:705.3px;width:80.7px;top:485.3px;height:22.4px;line-height:22.4px"><span style="transform:translate(0.6px,1.5px) scaleX(0.955)">177</span></div>
<div class="td" style="left:7px;width:115.1px;top:418.3px;height:89.4px;line-height:89.4px"><span class="m">ZPLF-060-L3</span></div>
<div class="hl" style="left:122.1px;width:663.9px;top:439.8px"></div>
<div class="hl" style="left:122.1px;width:663.9px;top:462.2px"></div>
<div class="hl" style="left:122.1px;width:663.9px;top:484.8px"></div>
<div class="hl" style="left:7px;width:779px;top:507.2px"></div>
<div class="vl" style="left:121.6px;top:418.3px;height:89.4px"></div>
<div class="vl" style="left:121.6px;top:393px;height:25.3px;opacity:.4"></div>
<div class="vl" style="left:204.9px;top:418.3px;height:89.4px"></div>
<div class="vl" style="left:204.9px;top:393px;height:25.3px;opacity:.4"></div>
<div class="vl" style="left:288px;top:418.3px;height:89.4px"></div>
<div class="vl" style="left:288px;top:393px;height:25.3px;opacity:.4"></div>
<div class="vl" style="left:371.3px;top:418.3px;height:89.4px"></div>
<div class="vl" style="left:371.3px;top:393px;height:25.3px;opacity:.4"></div>
<div class="vl" style="left:454.6px;top:418.3px;height:89.4px"></div>
<div class="vl" style="left:454.6px;top:393px;height:25.3px;opacity:.4"></div>
<div class="vl" style="left:537.9px;top:418.3px;height:89.4px"></div>
<div class="vl" style="left:537.9px;top:393px;height:25.3px;opacity:.4"></div>
<div class="vl" style="left:621.3px;top:418.3px;height:89.4px"></div>
<div class="vl" style="left:621.3px;top:393px;height:25.3px;opacity:.4"></div>
<div class="vl" style="left:704.8px;top:418.3px;height:89.4px"></div>
<div class="vl" style="left:704.8px;top:393px;height:25.3px;opacity:.4"></div>
</div>
</body></html>
